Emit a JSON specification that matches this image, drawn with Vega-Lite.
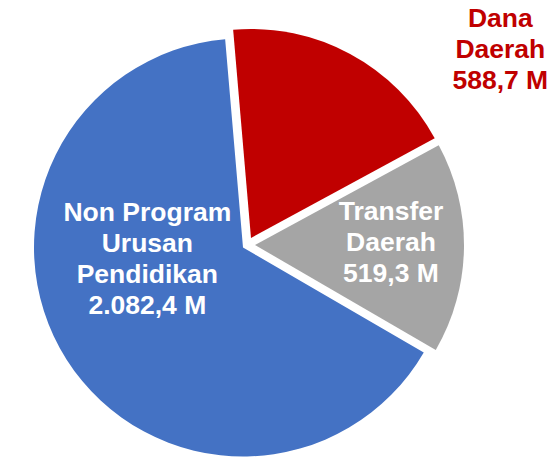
{
  "$schema": "https://vega.github.io/schema/vega-lite/v6.json",
  "width": 494,
  "height": 420,
  "autosize": "none",
  "padding": {"left": 0, "top": 35, "right": 60, "bottom": 4},
  "background": "white",
  "config": {"view": {"stroke": null}},
  "data": {
    "values": [
      {"k": "Dana Daerah", "o": 1, "v": 588.7, "label": "Dana\nDaerah\n588,7 M"},
      {"k": "Transfer Daerah", "o": 2, "v": 519.3, "label": "Transfer\nDaerah\n519,3 M"},
      {"k": "Non Program Urusan Pendidikan", "o": 3, "v": 2082.4, "label": "Non Program\nUrusan\nPendidikan\n2.082,4 M"}
    ]
  },
  "encoding": {
    "theta": {"field": "v", "type": "quantitative", "stack": true, "scale": {"range": [-0.0855, 6.1977]}},
    "order": {"field": "o", "type": "quantitative"},
    "color": {
      "field": "k",
      "type": "nominal",
      "scale": {"domain": ["Dana Daerah", "Transfer Daerah", "Non Program Urusan Pendidikan"], "range": ["#C00000", "#A5A5A5", "#4472C4"]},
      "legend": null
    }
  },
  "layer": [
    {
      "mark": {"type": "arc", "radius": 209, "xOffset": -4, "yOffset": 2.5},
      "encoding": {"opacity": {"condition": {"test": "datum.o === 3", "value": 1}, "value": 0}}
    },
    {
      "mark": {"type": "arc", "radius": 209, "xOffset": 8, "yOffset": 0},
      "encoding": {"opacity": {"condition": {"test": "datum.o === 2", "value": 1}, "value": 0}}
    },
    {
      "mark": {"type": "arc", "radius": 209, "xOffset": 4, "yOffset": -7},
      "encoding": {"opacity": {"condition": {"test": "datum.o === 1", "value": 1}, "value": 0}}
    },
    {
      "mark": {"type": "text", "radius": 105, "dx": -11, "dy": -88, "font": "Liberation Sans", "fontSize": 26.5, "fontWeight": "bold", "lineBreak": "\n", "lineHeight": 31, "align": "center", "baseline": "middle"},
      "encoding": {
        "text": {"field": "label"},
        "color": {"value": "white"},
        "opacity": {"condition": {"test": "datum.o === 3", "value": 1}, "value": 0}
      }
    },
    {
      "mark": {"type": "text", "radius": 144, "dx": 0, "dy": -35, "font": "Liberation Sans", "fontSize": 26.5, "fontWeight": "bold", "lineBreak": "\n", "lineHeight": 31, "align": "center", "baseline": "middle"},
      "encoding": {
        "text": {"field": "label"},
        "color": {"value": "white"},
        "opacity": {"condition": {"test": "datum.o === 2", "value": 1}, "value": 0}
      }
    },
    {
      "mark": {"type": "text", "radius": 222, "dx": 148, "dy": -31, "font": "Liberation Sans", "fontSize": 26.5, "fontWeight": "bold", "lineBreak": "\n", "lineHeight": 31, "align": "center", "baseline": "middle"},
      "encoding": {
        "text": {"field": "label"},
        "color": {"value": "#C00000"},
        "opacity": {"condition": {"test": "datum.o === 1", "value": 1}, "value": 0}
      }
    }
  ]
}
